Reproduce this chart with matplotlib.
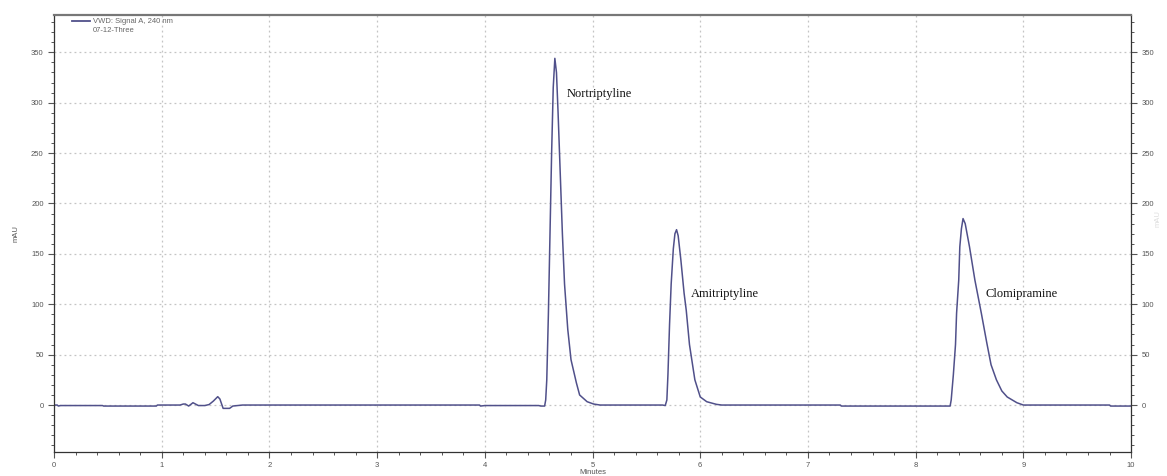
import matplotlib.pyplot as plt
from matplotlib.ticker import MultipleLocator

# chromatogram trace, VWD signal A at 240 nm (minutes, mAU)
time_min = [0.00, 0.03, 0.04, 0.06, 0.45, 0.46, 0.95, 0.96, 1.17, 1.20, 1.22, 1.25, 1.29,
            1.34, 1.40, 1.44, 1.48, 1.52, 1.54, 1.57, 1.63, 1.66, 1.75, 3.95, 3.96, 4.00,
            4.50, 4.52, 4.555, 4.565, 4.575, 4.59, 4.605, 4.62, 4.635, 4.65, 4.665, 4.68,
            4.70, 4.72, 4.74, 4.77, 4.80, 4.85, 4.88, 4.95, 5.01, 5.07, 5.65, 5.675, 5.69,
            5.70, 5.715, 5.73, 5.75, 5.765, 5.78, 5.795, 5.82, 5.85, 5.87, 5.90, 5.95, 6.00,
            6.06, 6.15, 6.20, 7.30, 7.31, 8.32, 8.33, 8.35, 8.37, 8.38, 8.40, 8.41, 8.425,
            8.44, 8.46, 8.50, 8.55, 8.61, 8.66, 8.70, 8.75, 8.80, 8.85, 8.94, 9.00, 9.80,
            9.81, 10.0]
signal_mau = [0.0, 0.0, -1.0, -0.5, -0.5, -1.0, -1.0, 0.0, 0.0, 1.0, 1.0, -1.0, 2.3,
              -0.5, -0.5, 0.5, 4.0, 8.3, 6.0, -3.3, -3.3, -1.0, 0.0, 0.0, -1.0, -0.5,
              -0.5, -1.0, -1.0, 5.0, 25.0, 90.0, 170.0, 250.0, 315.0, 344.0, 330.0, 290.0,
              230.0, 170.0, 120.0, 75.0, 45.0, 22.0, 10.0, 3.3, 1.0, 0.0, 0.0, -0.5, 5.0,
              30.0, 80.0, 120.0, 155.0, 170.0, 174.0, 168.0, 144.0, 111.0, 94.0, 60.0, 25.0, 8.0,
              3.3, 0.7, 0.0, 0.0, -1.0, -1.0, 5.0, 30.0, 60.0, 91.0, 124.0, 157.0, 175.0,
              185.0, 180.0, 157.0, 124.0, 91.0, 62.0, 40.0, 25.0, 14.0, 8.0, 2.3, 0.0, 0.0,
              -1.0, -1.0]

# peak labels
peak_names = ['Nortriptyline', 'Amitriptyline', 'Clomipramine']
label_x = [4.76, 5.91, 8.65]
label_y = [309, 110, 110]

trace_color = '#50508a'
axis_gray = '#555555'

fig = plt.figure(figsize=(11.67, 4.76), dpi=100)
ax = fig.add_axes([0.0463, 0.0504, 0.9229, 0.9181])

ax.plot(time_min, signal_mau, color=trace_color, lw=1.1)

ax.set_xlim(0, 10)
ax.set_ylim(-46.6, 387)

ax.xaxis.set_major_locator(MultipleLocator(1))
ax.xaxis.set_minor_locator(MultipleLocator(0.2))
ax.yaxis.set_major_locator(MultipleLocator(50))
ax.yaxis.set_minor_locator(MultipleLocator(10))
ax.set_yticks(range(0, 351, 50))

ax.grid(True, which='major', color='#c4c4c4', linestyle=(0, (1.5, 2.5)), linewidth=0.9)

ax.tick_params(axis='both', which='both', direction='out', colors=axis_gray,
               labelsize=5.5, labelcolor=axis_gray)
ax.tick_params(axis='y', which='both', left=True, right=True,
               labelleft=True, labelright=True)
ax.tick_params(which='major', length=4, width=0.8)
ax.tick_params(which='minor', length=2.5, width=0.7)
ax.tick_params(axis='x', which='both', top=False)

for side in ['left', 'right', 'bottom']:
    ax.spines[side].set_color('#333333')
    ax.spines[side].set_linewidth(0.9)
ax.spines['top'].set_color('#777777')
ax.spines['top'].set_linewidth(1.6)

for tl in ax.get_xticklabels() + ax.get_yticklabels():
    tl.set_fontfamily('Liberation Sans')

ax.set_xlabel('Minutes', fontsize=5.5, color=axis_gray, family='Liberation Sans', labelpad=0)
ax.set_ylabel('mAU', fontsize=5.5, color=axis_gray, family='Liberation Sans', labelpad=8)
fig.text(0.992, 0.54, 'mAU', rotation=90, fontsize=5.5, color='#dddddd',
         family='Liberation Sans', ha='center', va='center')

for name, x, y in zip(peak_names, label_x, label_y):
    ax.text(x, y, name, fontsize=9, family='Liberation Serif', color='#111111',
            ha='left', va='center')

# signal legend in the top left corner
ax.plot([0.017, 0.033], [0.986, 0.986], transform=ax.transAxes, color=trace_color,
        lw=1.3, clip_on=False)
ax.text(0.036, 0.986, 'VWD: Signal A, 240 nm', transform=ax.transAxes, fontsize=5.5,
        color='#666666', family='Liberation Sans', va='center')
ax.text(0.036, 0.964, '07-12-Three', transform=ax.transAxes, fontsize=5.5,
        color='#666666', family='Liberation Sans', va='center')

fig.savefig('out.png', dpi=100)
